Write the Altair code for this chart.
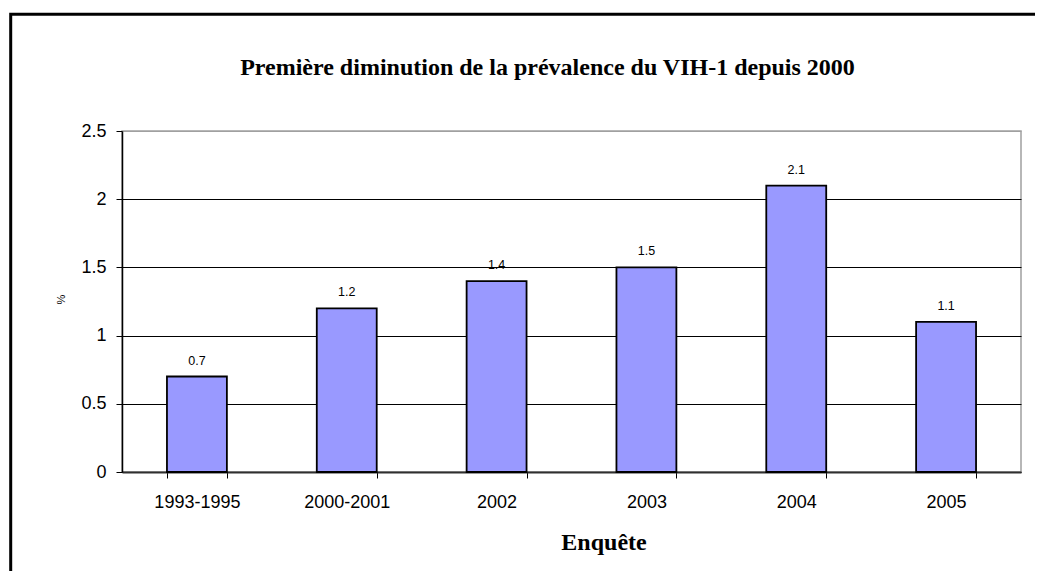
import altair as alt
import pandas as pd

categories = ["1993-1995", "2000-2001", "2002", "2003", "2004", "2005"]
values = [0.7, 1.2, 1.4, 1.5, 2.1, 1.1]
y_ticks = [0, 0.5, 1, 1.5, 2, 2.5]
title_text = "Première diminution de la prévalence du VIH-1 depuis 2000"
x_title = "Enquête"
y_title = "%"

df = pd.DataFrame({"cat": categories, "val": values})

W, H = 899, 341
SANS = "Liberation Sans"
SERIF = "Liberation Serif"

x_enc = alt.X(
    "cat:N", sort=categories,
    scale=alt.Scale(paddingInner=0.6, paddingOuter=0.3),
    axis=alt.Axis(title=None, labelAngle=0, labelFontSize=18, labelFont=SANS,
                  labelColor="black", tickBand="extent", tickSize=6,
                  tickColor="black", domainColor="#303030", domainWidth=2,
                  labelPadding=15, grid=False),
)
y_enc = alt.Y(
    "val:Q",
    scale=alt.Scale(domain=[0, 2.5], nice=False, zero=True),
    axis=alt.Axis(values=y_ticks, format="~g", title=y_title,
                  titleFont=SANS, titleFontSize=11, titleFontWeight="normal",
                  titleColor="black", titleX=-56, titleY=168,
                  labelFont=SANS, labelFontSize=18, labelColor="black",
                  labelPadding=10, tickSize=6, tickColor="black",
                  domainColor="black", domainWidth=1.5,
                  gridColor={"condition": {"test": "datum.value >= 2.5", "value": "#a0a0a0"},
                             "value": "black"},
                  gridWidth=1, gridOpacity=1),
)

bars = alt.Chart(df).mark_bar(color="#9999FF", stroke="black", strokeWidth=1.8).encode(
    x=x_enc, y=y_enc
)

texts = alt.Chart(df).mark_text(font=SANS, fontSize=12.5, color="black", dy=-12,
                                baseline="alphabetic").encode(
    x=alt.X("cat:N", sort=categories),
    y=alt.Y("val:Q"),
    text=alt.Text("val:Q", format=".1f"),
)

title = alt.Chart(pd.DataFrame({"t": [title_text]})).mark_text(
    font=SERIF, fontSize=24, fontWeight="bold", color="black", baseline="alphabetic"
).encode(text="t:N", x=alt.value(425.5), y=alt.value(-56))

xtitle = alt.Chart(pd.DataFrame({"t": [x_title]})).mark_text(
    font=SERIF, fontSize=24, fontWeight="bold", color="black", baseline="alphabetic"
).encode(text="t:N", x=alt.value(482), y=alt.value(419))

frame = alt.Chart(pd.DataFrame({"a": [0]})).mark_rect(
    fill=None, fillOpacity=0, stroke="black", strokeWidth=3
).encode(x=alt.value(-111.3), x2=alt.value(W + 400), y=alt.value(-116.7), y2=alt.value(H + 400))

chart = alt.layer(frame, bars, texts, title, xtitle).properties(
    width=W, height=H,
    autosize=alt.AutoSizeParams(type="none"),
    padding={"left": 114, "top": 123, "right": 14, "bottom": 99},
    background="white",
).configure_view(stroke="#a0a0a0", strokeWidth=1.5)

chart.save("out.html", embed_options={"renderer": "svg", "actions": False})
